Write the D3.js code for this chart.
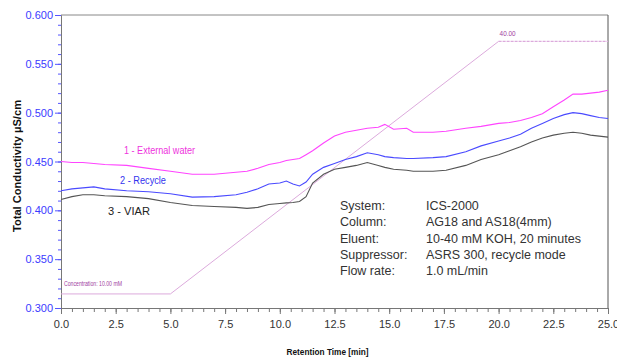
<!DOCTYPE html>
<html><head><meta charset="utf-8">
<script src="https://cdn.jsdelivr.net/npm/d3@7"></script>
<style>body{margin:0;background:#fff;} svg{display:block;}</style>
</head><body>
<svg id="chart" width="617" height="358"></svg>
<script>
const times = [0,0.5,1,1.5,2,3,4,5,6,7,8,8.5,9,9.5,10,10.3,10.6,10.9,11.2,11.5,12,12.5,13,13.5,14,14.5,14.8,15.2,15.8,16.1,17,17.6,18.5,19.2,20,20.5,21,21.5,22,22.5,23,23.4,23.8,24.2,24.6,25];
const externalWater = [0.450,0.449,0.449,0.448,0.447,0.446,0.443,0.440,0.437,0.437,0.439,0.440,0.443,0.447,0.449,0.451,0.452,0.453,0.457,0.461,0.469,0.476,0.480,0.482,0.484,0.485,0.488,0.483,0.484,0.480,0.480,0.481,0.484,0.486,0.489,0.490,0.492,0.495,0.499,0.506,0.513,0.519,0.519,0.520,0.521,0.523];
const recycle = [0.420,0.422,0.423,0.424,0.422,0.420,0.419,0.417,0.4135,0.414,0.416,0.4185,0.422,0.427,0.428,0.430,0.427,0.425,0.429,0.437,0.444,0.448,0.452,0.455,0.459,0.457,0.455,0.454,0.453,0.453,0.454,0.455,0.460,0.466,0.471,0.474,0.478,0.484,0.489,0.494,0.498,0.500,0.499,0.497,0.495,0.494];
const viar = [0.411,0.414,0.416,0.416,0.415,0.414,0.412,0.408,0.405,0.404,0.403,0.402,0.403,0.406,0.407,0.4076,0.408,0.409,0.414,0.428,0.437,0.442,0.444,0.446,0.449,0.446,0.444,0.442,0.441,0.440,0.440,0.441,0.446,0.452,0.457,0.461,0.465,0.470,0.474,0.477,0.479,0.480,0.479,0.477,0.476,0.475];
const concTimes = [0,5,20,25];
const concValues = [0.3144,0.3144,0.573,0.573];
const seriesNames = ["1 - External water","2 - Recycle","3 - VIAR"];
const xTicks = [0,2.5,5,7.5,10,12.5,15,17.5,20,22.5,25];
const yTicks = [0.300,0.350,0.400,0.450,0.500,0.550,0.600];
const infoLabels = ["System:","Column:","Eluent:","Suppressor:","Flow rate:"];
const infoValues = ["ICS-2000","AG18 and AS18(4mm)","10-40 mM KOH, 20 minutes","ASRS 300, recycle mode","1.0 mL/min"];

const svg = d3.select("#chart");
const m = {l:61, r:9, t:15, b:50};
const W = 617, H = 358;
const x = d3.scaleLinear().domain([0,25]).range([m.l, W-m.r]);
const y = d3.scaleLinear().domain([0.3,0.6]).range([H-m.b, m.t]);
const font = "'Liberation Sans', Arial, sans-serif";

// frame
svg.append("line").attr("x1",x(0)).attr("x2",x(25)).attr("y1",y(0.6)).attr("y2",y(0.6)).attr("stroke","#888");
svg.append("line").attr("x1",x(25)).attr("x2",x(25)).attr("y1",y(0.6)).attr("y2",y(0.3)).attr("stroke","#555");

// x axis
const xMinor = d3.range(0,25.01,0.5);
const gx = svg.append("g").attr("transform",`translate(0,${y(0.3)})`);
gx.call(d3.axisBottom(x).tickValues(xMinor).tickSize(4).tickFormat(""));
gx.call(g=>g.selectAll(".tick line").attr("stroke","#777"));
gx.select(".domain").attr("stroke","#777");
const gx2 = svg.append("g").attr("transform",`translate(0,${y(0.3)})`);
gx2.call(d3.axisBottom(x).tickValues(xTicks).tickSize(6).tickPadding(6).tickFormat(d3.format(".1f")));
gx2.select(".domain").remove();
gx2.selectAll(".tick line").attr("stroke","#777");
gx2.selectAll("text").attr("fill","#333").style("font-family",font).style("font-size","11px");

// y axis
const yMinor = d3.range(0.30,0.6001,0.01);
const gy = svg.append("g").attr("transform",`translate(${x(0)},0)`);
gy.call(d3.axisLeft(y).tickValues(yMinor).tickSize(3).tickFormat(""));
gy.selectAll(".tick line").attr("stroke","#5555ff");
gy.select(".domain").attr("stroke","#777");
const gy2 = svg.append("g").attr("transform",`translate(${x(0)},0)`);
gy2.call(d3.axisLeft(y).tickValues(yTicks).tickSize(6).tickPadding(2).tickFormat(d3.format(".3f")));
gy2.select(".domain").remove();
gy2.selectAll(".tick line").attr("stroke","#5555ff");
gy2.selectAll("text").attr("fill","#3b3bff").style("font-family",font).style("font-size","11px");

// concentration line
const concData = concTimes.map((t,i)=>({t, v:concValues[i]}));
const cl = d3.line().x(d=>x(d.t)).y(d=>y(d.v));
svg.append("path").datum(concData.slice(0,3)).attr("d",cl).attr("fill","none").attr("stroke","#dcaadc").attr("stroke-width",1);
svg.append("path").datum(concData.slice(2)).attr("d",cl).attr("fill","none").attr("stroke","#dcaadc").attr("stroke-width",1.2).attr("stroke-dasharray","3,1");
svg.append("text").attr("x",x(0)+3).attr("y",y(concValues[0])-8).text("Concentration: 10.00 mM")
  .attr("fill","#a040a0").style("font-family",font).style("font-size","6.5px").attr("textLength",58).attr("lengthAdjust","spacingAndGlyphs");
svg.append("text").attr("x",x(concTimes[2])+1).attr("y",y(concValues[2])-5).text("40.00")
  .attr("fill","#a040a0").style("font-family",font).style("font-size","7.5px").attr("textLength",16).attr("lengthAdjust","spacingAndGlyphs");

// series
const line = d3.line().x((d,i)=>x(times[i])).y(d=>y(d));
const series = [
  {vals:externalWater, color:"#ff44ff", label:seriesNames[0], lc:"#ee33dd", lx:124, ly:154, lw:71},
  {vals:recycle, color:"#4a4aff", label:seriesNames[1], lc:"#3333ee", lx:120, ly:184, lw:46},
  {vals:viar, color:"#555555", label:seriesNames[2], lc:"#222", lx:108, ly:215, lw:42}
];
series.slice().reverse().forEach(s=>{
  svg.append("path").datum(s.vals).attr("d",line).attr("fill","none").attr("stroke",s.color).attr("stroke-width",1.1);
});
series.forEach(s=>{
  svg.append("text").attr("x",s.lx).attr("y",s.ly).text(s.label).attr("fill",s.lc)
   .style("font-family",font).style("font-size","11px").attr("textLength",s.lw).attr("lengthAdjust","spacingAndGlyphs");
});

// info box
infoLabels.forEach((l,i)=>{
  svg.append("text").attr("x",340).attr("y",210+i*16.3).text(l).attr("fill","#333").style("font-family",font).style("font-size","12.5px");
  svg.append("text").attr("x",426).attr("y",210+i*16.3).text(infoValues[i]).attr("fill","#333").style("font-family",font).style("font-size","12.5px");
});

// axis titles
svg.append("text").attr("x",(x(0)+x(25))/2 - 7).attr("y",355).attr("text-anchor","middle").text("Retention Time [min]")
  .attr("fill","#111").style("font-family",font).style("font-size","9.5px").style("font-weight","bold").attr("textLength",82).attr("lengthAdjust","spacingAndGlyphs");
svg.append("text").attr("transform",`translate(21,${166}) rotate(-90)`).attr("text-anchor","middle").text("Total Conductivity µS/cm")
  .attr("fill","#111").style("font-family",font).style("font-size","10px").style("font-weight","bold").attr("textLength",132).attr("lengthAdjust","spacingAndGlyphs");
</script>
</body></html>
